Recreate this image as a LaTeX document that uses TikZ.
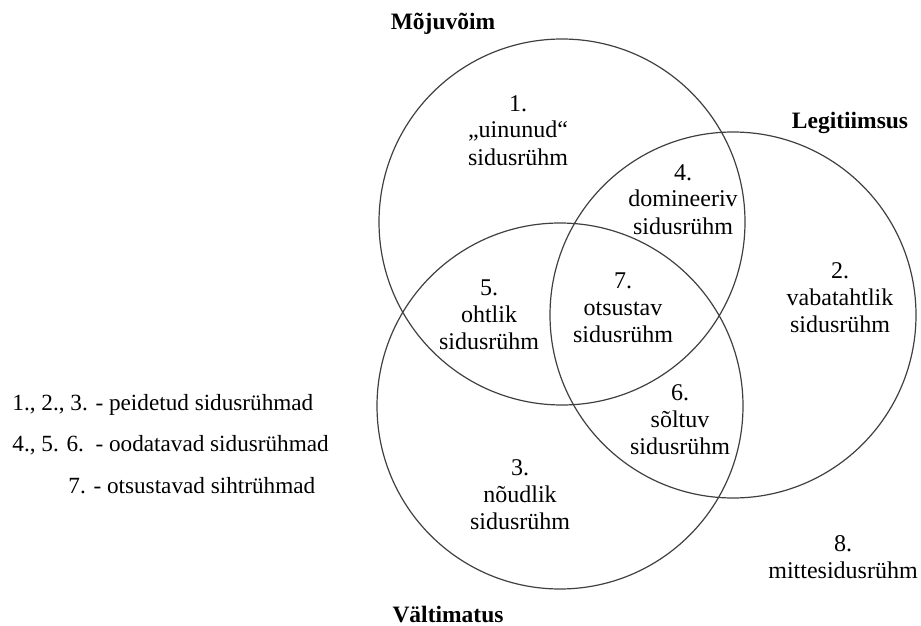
\documentclass[tikz,border=0pt]{standalone}
\usepackage{fontspec}
\setmainfont{Liberation Serif}
\begin{document}
\begin{tikzpicture}[x=0.5pt,y=-0.5pt,
  venn/.style={circle,draw=black!75,line width=0.6pt,minimum size=183pt,inner sep=0pt},
  title/.style={font=\fontsize{11.75}{13.5}\selectfont\bfseries,anchor=base,inner sep=0pt},
  region/.style={font=\fontsize{12}{13.5}\selectfont,align=center,anchor=base,inner sep=0pt},
  legend/.style={font=\fontsize{11.6}{13.5}\selectfont,anchor=base west,inner sep=0pt}]
\useasboundingbox (0,0) rectangle (921,626);
% the three stakeholder attributes
\node[venn] (moju)  at (562,222) {};
\node[venn] (legit) at (733,315) {};
\node[venn] (valt)  at (560,406) {};
\node[title] (tmoju)  at (443,30)  {Mõjuvõim};
\node[title] (tlegit) at (850,128) {Legitiimsus};
\node[title] (tvalt)  at (448,622) {Vältimatus};
% regions of the diagram (positioned by the baseline of the last line)
\node[region] (r1) at (518,165) {1.\\„uinunud“\\sidusrühm};
\node[region] (r4) at (683,234) {4.\\domineeriv\\sidusrühm};
\node[region] (r2) at (840,332) {2.\\vabatahtlik\\sidusrühm};
\node[region] (r7) at (623,342) {7.\\otsustav\\sidusrühm};
\node[region] (r5) at (489,349) {5.\\ohtlik\\sidusrühm};
\node[region] (r6) at (680,454) {6.\\sõltuv\\sidusrühm};
\node[region] (r3) at (520,529) {3.\\nõudlik\\sidusrühm};
\node[region] (r8) at (843,578) {8.\\mittesidusrühm};
% legend
\node[legend] (l1) at (12,410) {1., 2., 3. - peidetud sidusrühmad};
\node[legend] (l2) at (12,451) {4., 5. 6.\ \ - oodatavad sidusrühmad};
\node[legend] (l3) at (68,493) {7. - otsustavad sihtrühmad};
\end{tikzpicture}
\end{document}
